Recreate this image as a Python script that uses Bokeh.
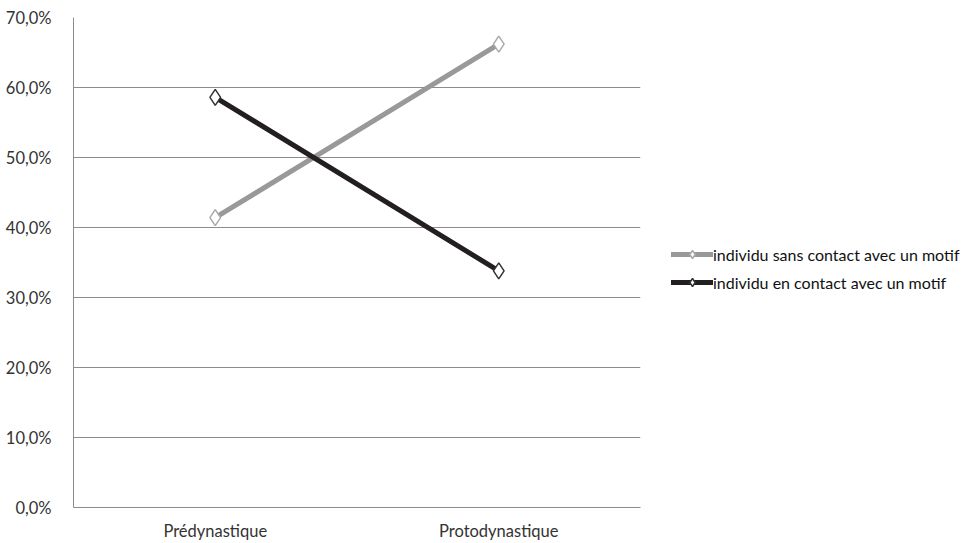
from bokeh.plotting import figure
from bokeh.models import Legend, LegendItem, CustomJSTickFormatter, FixedTicker, Range1d
from bokeh.embed import file_html
from bokeh.resources import INLINE

categories = ["Prédynastique", "Protodynastique"]
sans_contact = [41.4, 66.2]
en_contact = [58.6, 33.8]
series_names = ["individu sans contact avec un motif", "individu en contact avec un motif"]
y_ticks = [0, 10, 20, 30, 40, 50, 60, 70]

FONT = "Lato"

p = figure(x_range=categories, y_range=Range1d(0, 70),
           frame_width=567, frame_height=490,
           output_backend="svg", toolbar_location=None,
           min_border_left=73, min_border_top=17, min_border_bottom=34,
           min_border_right=334)
p.outline_line_color = None
p.background_fill_color = "white"
p.x_range.range_padding = 0

p.xgrid.grid_line_color = None
p.ygrid.grid_line_color = "#8c8c8c"
p.ygrid.grid_line_width = 1
p.yaxis.ticker = FixedTicker(ticks=y_ticks)
p.yaxis.formatter = CustomJSTickFormatter(code="return tick.toFixed(1).replace('.', ',') + '%';")

for ax in (p.xaxis, p.yaxis):
    ax.axis_line_color = "#8c8c8c"
    ax.axis_line_width = 1
    ax.major_tick_line_color = None
    ax.minor_tick_line_color = None
    ax.major_label_text_font = FONT
    ax.major_label_text_font_size = "16.5px"
    ax.major_label_text_color = "#333333"
p.yaxis.major_label_standoff = 16
p.xaxis.major_label_standoff = 7

l1 = p.line(categories, sans_contact, line_color="#999999", line_width=5, line_cap="round")
m1 = p.scatter(categories, sans_contact, marker="diamond", size=16,
               fill_color="white", line_color="#aaaaaa", line_width=1.5)
l2 = p.line(categories, en_contact, line_color="#231f20", line_width=5, line_cap="round")
m2 = p.scatter(categories, en_contact, marker="diamond", size=16,
               fill_color="white", line_color="#333333", line_width=1.5)

legend = Legend(items=[LegendItem(label=series_names[0], renderers=[l1, m1]),
                       LegendItem(label=series_names[1], renderers=[l2, m2])],
                location=(31, 215))
legend.border_line_color = None
legend.background_fill_alpha = 0
legend.label_text_font = FONT
legend.label_text_font_size = "16px"
legend.label_text_color = "#111111"
legend.glyph_width = 42
legend.glyph_height = 20
legend.label_height = 20
legend.label_standoff = 0
legend.spacing = 8
legend.margin = 0
legend.padding = 0
p.add_layout(legend, "right")

open("out.html", "w").write(file_html(p, INLINE))
